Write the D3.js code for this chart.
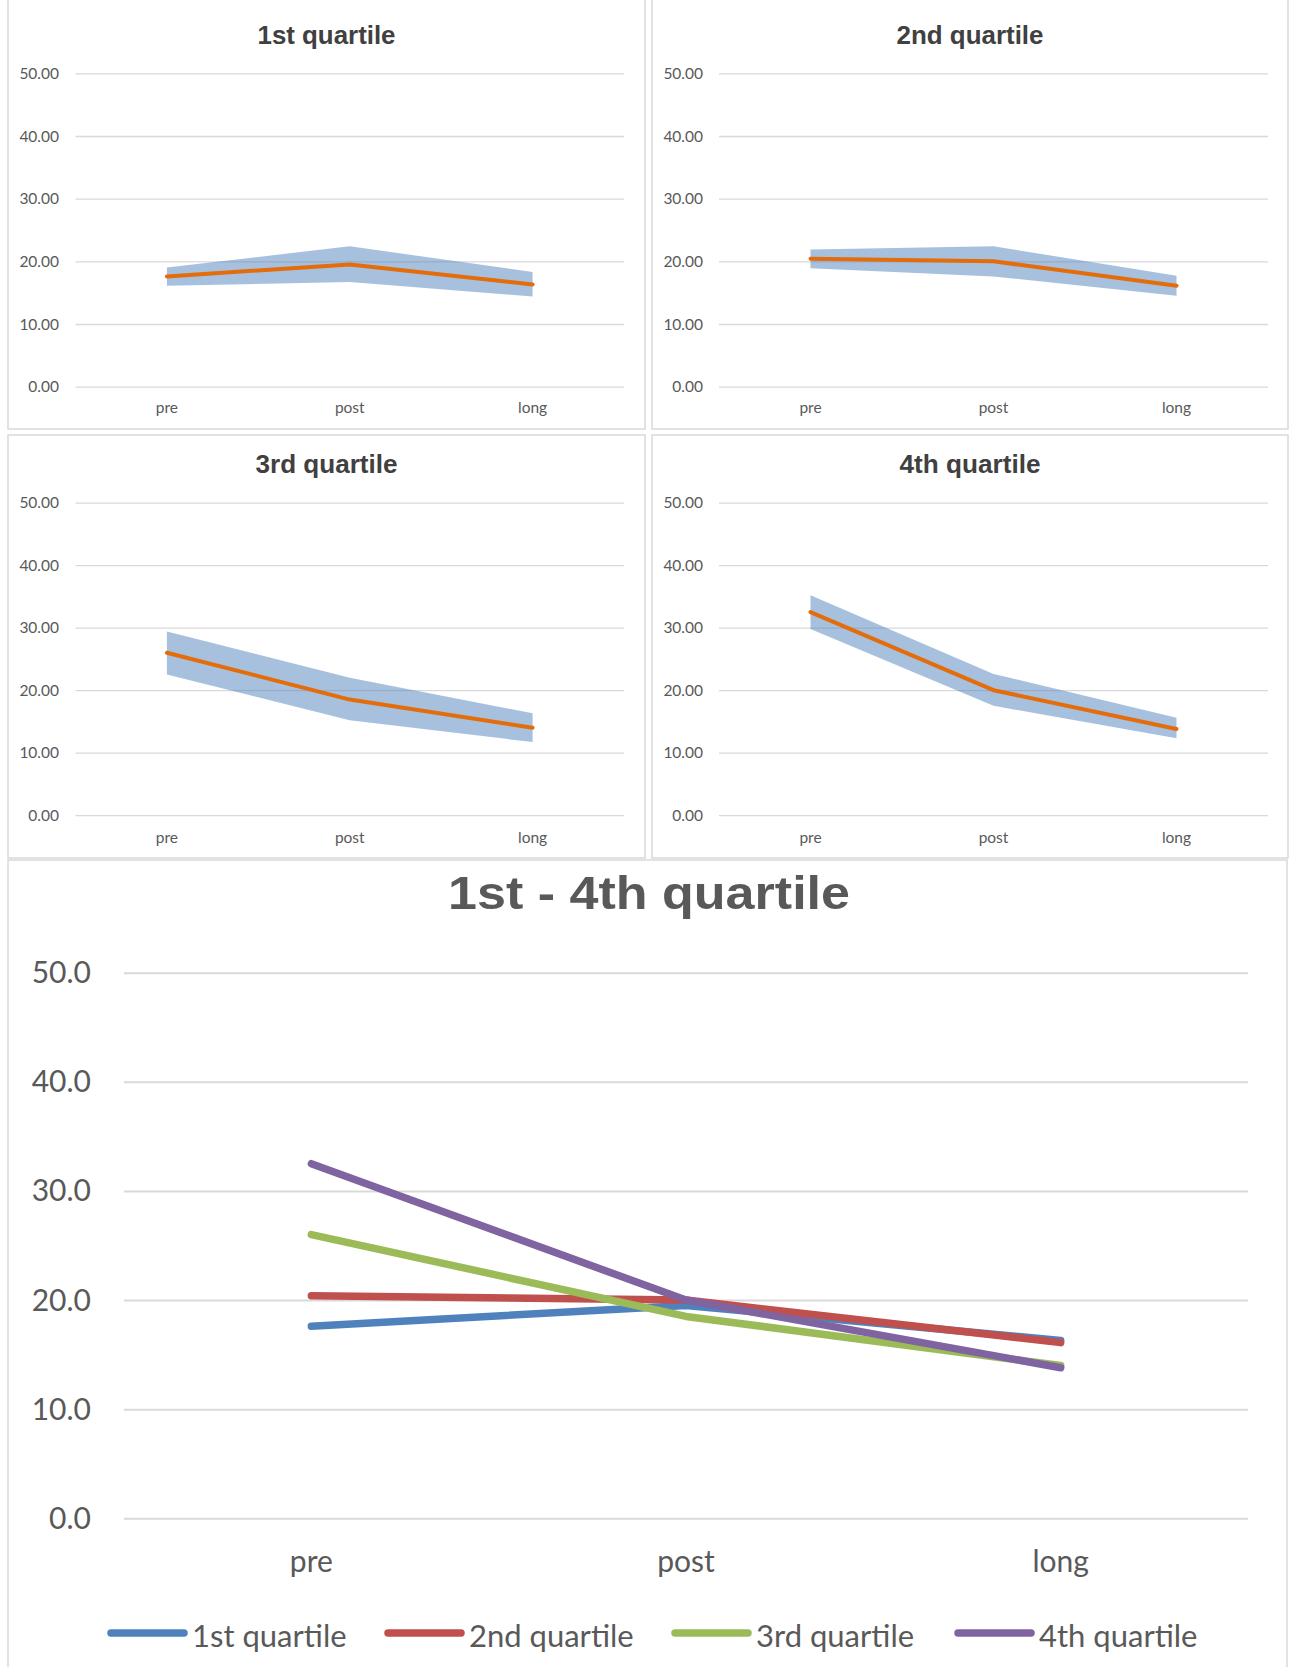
<!DOCTYPE html>
<html>
<head>
<meta charset="utf-8">
<script src="https://cdn.jsdelivr.net/npm/d3@7"></script>
<style>
  html, body { margin: 0; padding: 0; background: #ffffff; }
  svg { display: block; }
</style>
</head>
<body>
<div id="chart"></div>
<script>
// ---------------- data ----------------
const categories = ["pre", "post", "long"];
const quartileNames = ["1st quartile", "2nd quartile", "3rd quartile", "4th quartile"];
const meanQ1 = [17.6, 19.5, 16.3];
const meanQ2 = [20.4, 20.0, 16.1];
const meanQ3 = [26.0, 18.5, 14.0];
const meanQ4 = [32.5, 20.0, 13.8];
const lowerQ1 = [16.1, 16.7, 14.4];
const lowerQ2 = [18.9, 17.6, 14.5];
const lowerQ3 = [22.5, 15.2, 11.7];
const lowerQ4 = [29.8, 17.5, 12.3];
const upperQ1 = [19.0, 22.4, 18.3];
const upperQ2 = [21.9, 22.4, 17.7];
const upperQ3 = [29.4, 22.0, 16.3];
const upperQ4 = [35.2, 22.6, 15.6];
const yTicks = [0, 10, 20, 30, 40, 50];
const mainTitle = "1st - 4th quartile";

const means = [meanQ1, meanQ2, meanQ3, meanQ4];
const lowers = [lowerQ1, lowerQ2, lowerQ3, lowerQ4];
const uppers = [upperQ1, upperQ2, upperQ3, upperQ4];
const seriesColors = ["#4F81BD", "#C0504D", "#9BBB59", "#8064A2"];

// ---------------- layout ----------------
const W = 1289, H = 1667;
const svg = d3.select("#chart").append("svg").attr("width", W).attr("height", H);

const tickFont = "Lato, 'Open Sans', sans-serif";
const titleFont = "'Liberation Sans', Arial, sans-serif";

const panels = [
  {x0: 8,   y0: -2,  x1: 645,  y1: 429, plotL: 75.5, plotR: 624,  yTop: 73.3,  yBot: 386.7, titleY: 44,  titleW: 138, xLabelY: 413, tickRight: 59},
  {x0: 652, y0: -2,  x1: 1288, y1: 429, plotL: 719,  plotR: 1268, yTop: 73.3,  yBot: 386.7, titleY: 44,  titleW: 147, xLabelY: 413, tickRight: 703},
  {x0: 8,   y0: 435, x1: 645,  y1: 858, plotL: 75.5, plotR: 624,  yTop: 502.7, yBot: 815.2, titleY: 473, titleW: 142, xLabelY: 843, tickRight: 59},
  {x0: 652, y0: 435, x1: 1288, y1: 858, plotL: 719,  plotR: 1268, yTop: 502.7, yBot: 815.2, titleY: 473, titleW: 141, xLabelY: 843, tickRight: 703}
];

panels.forEach((p, qi) => {
  const g = svg.append("g");
  g.append("rect")
    .attr("x", p.x0).attr("y", p.y0)
    .attr("width", p.x1 - p.x0).attr("height", p.y1 - p.y0)
    .attr("fill", "#fff").attr("stroke", "#d9d9d9").attr("stroke-width", 1.5);

  const x = d3.scalePoint().domain(categories).range([p.plotL, p.plotR]).padding(0.5);
  const y = d3.scaleLinear().domain([0, 50]).range([p.yBot, p.yTop]);

  // gridlines
  const yAxis = d3.axisLeft(y).tickValues(yTicks).tickSize(-(p.plotR - p.plotL)).tickFormat("");
  const ga = g.append("g").attr("transform", `translate(${p.plotL},0)`).call(yAxis);
  ga.select(".domain").remove();
  ga.selectAll(".tick line").attr("stroke", "#d9d9d9").attr("stroke-width", 1.3);

  // y tick labels
  g.selectAll(".ylab").data(yTicks).enter().append("text")
    .attr("x", p.tickRight).attr("y", d => y(d)).attr("dy", "0.36em")
    .attr("text-anchor", "end")
    .attr("font-family", tickFont).attr("font-size", 15.5).attr("fill", "#595959")
    .text(d => d3.format(".2f")(d));

  // x labels
  g.selectAll(".xlab").data(categories).enter().append("text")
    .attr("x", d => x(d)).attr("y", p.xLabelY)
    .attr("text-anchor", "middle")
    .attr("font-family", tickFont).attr("font-size", 15.5).attr("fill", "#595959")
    .text(d => d);

  // band
  const bandData = categories.map((c, i) => ({c, lo: lowers[qi][i], hi: uppers[qi][i]}));
  const area = d3.area().x(d => x(d.c)).y0(d => y(d.lo)).y1(d => y(d.hi));
  g.append("path").datum(bandData).attr("d", area)
    .attr("fill", "#4F81BD").attr("fill-opacity", 0.5);

  // mean line
  const lineData = categories.map((c, i) => ({c, v: means[qi][i]}));
  const line = d3.line().x(d => x(d.c)).y(d => y(d.v));
  g.append("path").datum(lineData).attr("d", line)
    .attr("fill", "none").attr("stroke", "#E46C0A").attr("stroke-width", 4)
    .attr("stroke-linecap", "round").attr("stroke-linejoin", "round");

  // title
  g.append("text")
    .attr("x", (p.x0 + p.x1) / 2).attr("y", p.titleY)
    .attr("text-anchor", "middle")
    .attr("font-family", titleFont).attr("font-weight", "bold").attr("font-size", 25)
    .attr("fill", "#404040")
    .attr("textLength", p.titleW).attr("lengthAdjust", "spacingAndGlyphs")
    .text(quartileNames[qi]);
});

// ---------------- main chart ----------------
const M = {x0: 8, y0: 860, x1: 1287, y1: 1690, plotL: 124, plotR: 1248, yTop: 972.7, yBot: 1518.3};
const mg = svg.append("g");
mg.append("rect")
  .attr("x", M.x0).attr("y", M.y0).attr("width", M.x1 - M.x0).attr("height", M.y1 - M.y0)
  .attr("fill", "#fff").attr("stroke", "#d9d9d9").attr("stroke-width", 1.5);

const mx = d3.scalePoint().domain(categories).range([M.plotL, M.plotR]).padding(0.5);
const my = d3.scaleLinear().domain([0, 50]).range([M.yBot, M.yTop]);

const myAxis = d3.axisLeft(my).tickValues(yTicks).tickSize(-(M.plotR - M.plotL)).tickFormat("");
const mga = mg.append("g").attr("transform", `translate(${M.plotL},0)`).call(myAxis);
mga.select(".domain").remove();
mga.selectAll(".tick line").attr("stroke", "#d9d9d9").attr("stroke-width", 2);

mg.selectAll(".ylab").data(yTicks).enter().append("text")
  .attr("x", 91).attr("y", d => my(d)).attr("dy", "0.35em")
  .attr("text-anchor", "end")
  .attr("font-family", tickFont).attr("font-size", 30).attr("fill", "#595959")
  .text(d => d3.format(".1f")(d));

mg.selectAll(".xlab").data(categories).enter().append("text")
  .attr("x", d => mx(d)).attr("y", 1572)
  .attr("text-anchor", "middle")
  .attr("font-family", tickFont).attr("font-size", 30).attr("fill", "#595959")
  .text(d => d);

const mline = d3.line().x(d => mx(d.c)).y(d => my(d.v));
means.forEach((s, qi) => {
  mg.append("path")
    .datum(categories.map((c, i) => ({c, v: s[i]})))
    .attr("d", mline)
    .attr("fill", "none").attr("stroke", seriesColors[qi]).attr("stroke-width", 7.5)
    .attr("stroke-linecap", "round").attr("stroke-linejoin", "round");
});

mg.append("text")
  .attr("x", 649).attr("y", 909)
  .attr("text-anchor", "middle")
  .attr("font-family", titleFont).attr("font-weight", "bold").attr("font-size", 47)
  .attr("fill", "#595959")
  .attr("textLength", 402).attr("lengthAdjust", "spacingAndGlyphs")
  .text(mainTitle);

// legend
const legendStarts = [108, 385, 672, 955];
const legend = mg.append("g");
quartileNames.forEach((name, qi) => {
  const lx = legendStarts[qi];
  legend.append("line")
    .attr("x1", lx + 3).attr("x2", lx + 76).attr("y1", 1633).attr("y2", 1633)
    .attr("stroke", seriesColors[qi]).attr("stroke-width", 7.5).attr("stroke-linecap", "round");
  legend.append("text")
    .attr("x", lx + 84).attr("y", 1647)
    .attr("font-family", tickFont).attr("font-size", 31).attr("fill", "#595959")
    .text(name);
});
</script>
</body>
</html>
